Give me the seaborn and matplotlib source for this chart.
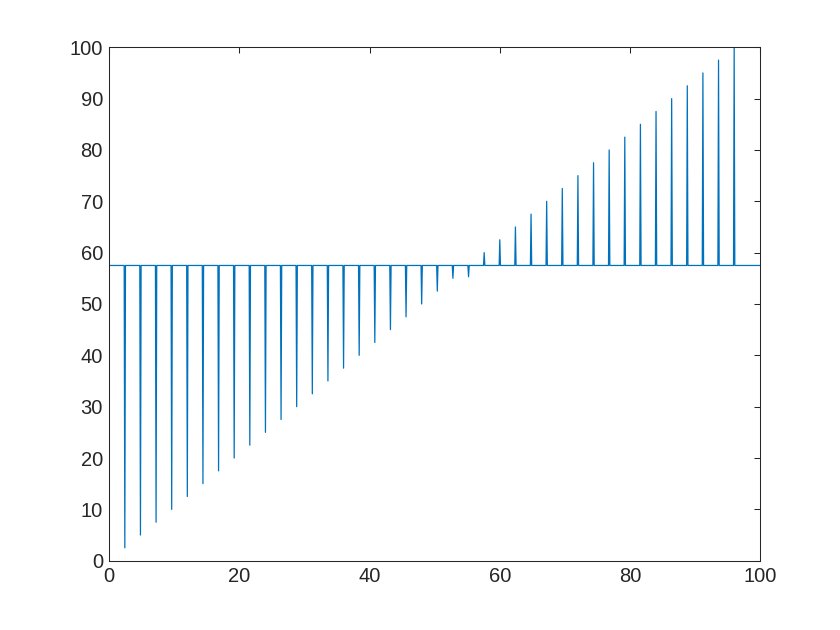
import numpy as np
import pandas as pd
import matplotlib
matplotlib.use("Agg")
import matplotlib.pyplot as plt
import seaborn as sns

# ---- data ----
baseline = 57.5
x_start, x_end = 0.0, 100.0
spike_x = [2.4, 4.8, 7.2, 9.6, 12.0, 14.4, 16.8, 19.2, 21.6, 24.0,
           26.4, 28.8, 31.2, 33.6, 36.0, 38.4, 40.8, 43.2, 45.6, 48.0,
           50.4, 52.8, 55.2, 57.6, 60.0, 62.4, 64.8, 67.2, 69.6, 72.0,
           74.4, 76.8, 79.2, 81.6, 84.0, 86.4, 88.8, 91.2, 93.6, 96.0]
spike_y = [2.5, 5.0, 7.5, 10.0, 12.5, 15.0, 17.5, 20.0, 22.5, 25.0,
           27.5, 30.0, 32.5, 35.0, 37.5, 40.0, 42.5, 45.0, 47.5, 50.0,
           52.5, 55.0, 55.3, 60.0, 62.5, 65.0, 67.5, 70.0, 72.5, 75.0,
           77.5, 80.0, 82.5, 85.0, 87.5, 90.0, 92.5, 95.0, 97.5, 100.0]
x_ticks = [0, 20, 40, 60, 80, 100]
y_ticks = [0, 10, 20, 30, 40, 50, 60, 70, 80, 90, 100]

# ---- build the signal (baseline with narrow triangular spikes) ----
half_w = 0.1
xs, ys = [x_start], [baseline]
for sx, sy in zip(spike_x, spike_y):
    xs += [sx - half_w, sx, sx + half_w]
    ys += [baseline, sy, baseline]
xs.append(x_end)
ys.append(baseline)
df = pd.DataFrame({"x": xs, "y": ys})

sns.set_style("white")
ink = "#262626"
plt.rcParams["font.family"] = ["Liberation Sans", "DejaVu Sans"]
plt.rcParams.update({
    "axes.edgecolor": ink,
    "axes.linewidth": 0.5,
    "xtick.color": ink,
    "ytick.color": ink,
    "xtick.labelcolor": ink,
    "ytick.labelcolor": ink,
    "xtick.direction": "in",
    "ytick.direction": "in",
})

fig = plt.figure(figsize=(5.6, 4.2), dpi=150)
ax = fig.add_axes([0.13, 0.11, 0.775, 0.815])
sns.lineplot(data=df, x="x", y="y", ax=ax, color="#0072BD", linewidth=0.6,
             estimator=None, sort=False)

ax.set_xlim(0, 100)
ax.set_ylim(0, 100)
ax.set_xticks(x_ticks)
ax.set_yticks(y_ticks)
ax.set_xlabel("")
ax.set_ylabel("")
ax.tick_params(axis="both", which="both", length=3.1, width=0.5,
               labelsize=9.7, top=True, right=True, direction="in", pad=3)
for s in ax.spines.values():
    s.set_visible(True)
    s.set_color(ink)
    s.set_linewidth(0.5)

fig.savefig("out.png", dpi=150, facecolor="white")
